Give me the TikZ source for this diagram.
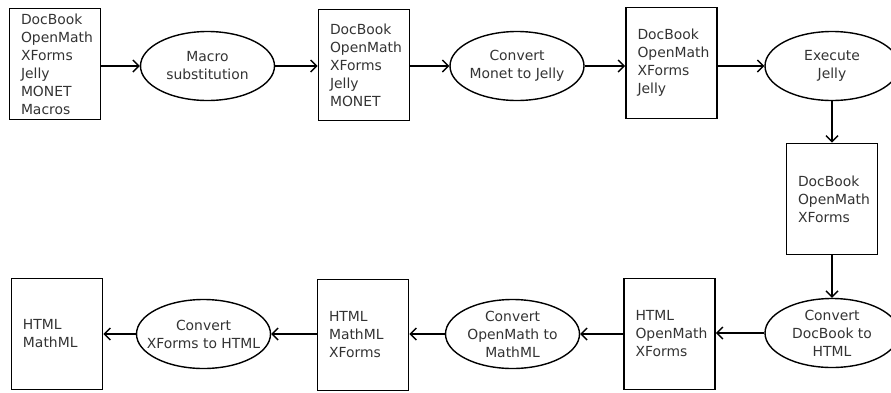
\documentclass[tikz,border=0pt]{standalone}
\usepackage{fontspec}
\setmainfont{DejaVu Sans}
\usepackage{tikz}
\usetikzlibrary{shapes.geometric, arrows.meta}

\begin{document}
\begin{tikzpicture}[x=1pt, y=-1pt,
    font=\fontsize{13.9}{18}\selectfont,
    box/.style={rectangle, draw=black, line width=1.6pt, minimum width=91pt, minimum height=111pt,
      text width=68pt, inner xsep=11.5pt, align=left, text=black!80},
    proc/.style={ellipse, draw=black, line width=1.4pt, minimum width=134pt, minimum height=69pt, inner sep=0pt},
    proctext/.style={align=center, text=black!80},
    flow/.style={-{Straight Barb[length=6pt, width=12pt]}, line width=1.4pt}]
    \useasboundingbox (0,0) rectangle (891,392);

      % top row
      \node[box] (src) at (55,64) {DocBook\\OpenMath\\XForms\\Jelly\\MONET\\Macros};
      \node[proc, label={[proctext]center:Macro\\substitution}] (macro) at (207.5,66) {};
      \node[box] (monet) at (364,65) {DocBook\\OpenMath\\XForms\\Jelly\\MONET};
      \node[proc, label={[proctext]center:Convert\\Monet to Jelly}] (tojelly) at (517,66) {};
      \node[box] (jelly) at (671.5,63) {DocBook\\OpenMath\\XForms\\Jelly};
      \node[proc, label={[proctext]center:Execute\\Jelly}] (exec) at (832,66) {};

      % right column
      \node[box] (xml) at (832,199) {DocBook\\OpenMath\\XForms};
      \node[proc, label={[proctext]center:Convert\\DocBook to\\HTML}] (tohtml) at (832,333) {};

      % bottom row
      \node[box] (om) at (669.5,334) {HTML\\OpenMath\\XForms};
      \node[proc, label={[proctext]center:Convert\\OpenMath to\\MathML}] (tomml) at (512.5,334) {};
      \node[box] (mml) at (363,335) {HTML\\MathML\\XForms};
      \node[proc, label={[proctext]center:Convert\\XForms to HTML}] (toxf) at (203.5,334) {};
      \node[box] (html) at (57,334) {HTML\\MathML};

      \draw[flow] (src.east |- macro.west) -- (macro.west);
      \draw[flow] (macro.east) -- (monet.west |- macro.east);
      \draw[flow] (monet.east |- tojelly.west) -- (tojelly.west);
      \draw[flow] (tojelly.east) -- (jelly.west |- tojelly.east);
      \draw[flow] (jelly.east |- exec.west) -- (exec.west);
      \draw[flow] (exec.south) -- (xml.north);
      \draw[flow] (xml.south) -- (tohtml.north);
      \draw[flow] (tohtml.west) -- (om.east |- tohtml.west);
      \draw[flow] (om.west |- tomml.east) -- (tomml.east);
      \draw[flow] (tomml.west) -- (mml.east |- tomml.west);
      \draw[flow] (mml.west |- toxf.east) -- (toxf.east);
      \draw[flow] (toxf.west) -- (html.east |- toxf.west);
    \end{tikzpicture}
\end{document}
